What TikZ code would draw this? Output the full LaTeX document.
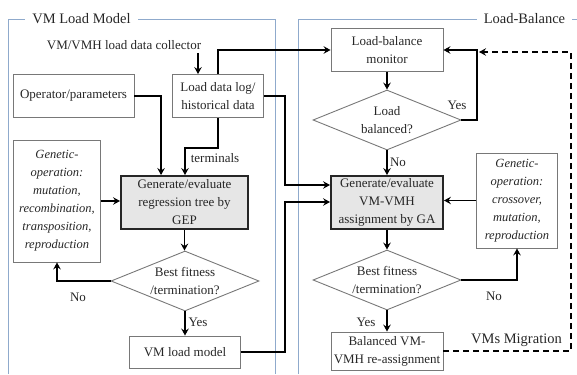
\documentclass[tikz,border=0pt]{standalone}
\usepackage{fontspec}
\setmainfont{Liberation Serif}
\usetikzlibrary{shapes.geometric,arrows.meta}
\definecolor{frameblue}{RGB}{143,170,204}
\definecolor{boxgray}{RGB}{120,120,120}
\definecolor{fillgray}{RGB}{230,230,230}
\begin{document}
\begin{tikzpicture}[x=1pt,y=-1pt,
 every node/.style={font=\fontsize{13}{18}\selectfont, text=black!85},
 box/.style={draw=boxgray, line width=0.9pt, align=center, inner sep=0pt},
 gbox/.style={draw=black!85, line width=1.9pt, fill=fillgray, align=center, inner sep=0pt},
 dia/.style={draw=boxgray, line width=0.9pt, diamond, shape aspect=2.47, inner sep=0pt, align=center, minimum width=148pt, minimum height=60pt},
 itbox/.style={box, font=\fontsize{12.5}{18}\selectfont\itshape},
 arr/.style={line width=1.8pt, -{Stealth[length=7pt,width=7.5pt,inset=2.5pt]}},
 dasharr/.style={arr, dash pattern=on 6pt off 4pt},
 frame/.style={draw=frameblue, line width=0.8pt},
 ttl/.style={fill=white, inner xsep=7pt, inner ysep=3pt, font=\fontsize{14.5}{17}\selectfont},
 lbl/.style={inner sep=0pt}]
\path[use as bounding box] (0,0) rectangle (577,374);
% frames
\draw[frame] (8,374) -- (8,19) -- (275,19) -- (275,374);
\draw[frame] (298,374) -- (298,19) -- (577,19);
\node[ttl] (t1) at (81.5,19) {VM Load Model};
\node[ttl] (t2) at (524.5,19) {Load-Balance};
% left nodes
\node[lbl] (coll) at (124,45) {VM/VMH load data collector};
\node[box, minimum width=121pt, minimum height=43pt] (oper) at (73.5,96) {Operator/parameters};
\node[box, minimum width=91pt, minimum height=43pt] (log) at (218,96) {Load data log/\\historical data};
\node[itbox, minimum width=87pt, minimum height=122pt] (gen1) at (57,201) {Genetic-\\operation:\\mutation,\\recombination,\\transposition,\\reproduction};
\node[gbox, minimum width=127pt, minimum height=53pt] (gep) at (184.5,202.5) {Generate/evaluate\\regression tree by\\GEP};
\node[dia] (fit1) at (185,281) {Best fitness\\/termination?};
\node[box, minimum width=111pt, minimum height=32pt] (vmlm) at (185,352) {VM load model};
% right nodes
\node[box, minimum width=112pt, minimum height=43pt] (mon) at (387,50) {Load-balance\\monitor};
\node[dia] (bal) at (387,120) {Load\\balanced?};
\node[gbox, minimum width=112pt, minimum height=53pt] (ga) at (387,202.5) {Generate/evaluate\\VM-VMH\\assignment by GA};
\node[itbox, minimum width=81pt, minimum height=95pt] (gen2) at (517,200.5) {Genetic-\\operation:\\crossover,\\mutation,\\reproduction};
\node[dia] (fit2) at (387,280) {Best fitness\\/termination?};
\node[box, minimum width=112pt, minimum height=38pt] (balvm) at (387,351) {Balanced VM-\\VMH re-assignment};
% labels
\node[lbl] (lterm) at (215,158) {terminals};
\node[lbl] (lno1) at (78,297) {No};
\node[lbl] (lyes1) at (198,322) {Yes};
\node[lbl] (lyes2) at (457,105) {Yes};
\node[lbl] (lno2) at (398,162) {No};
\node[lbl] (lno3) at (494,296) {No};
\node[lbl] (lyes3) at (366,322) {Yes};
\node[lbl, font=\fontsize{14.5}{17}\selectfont] (lmig) at (516.5,340) {VMs Migration};
% helper coordinates
\coordinate (cin) at (198,53);
\coordinate (tj) at (185,148);
\coordinate (j1) at (285,185);
\coordinate (j2) at (285,202);
\coordinate (j3) at (477,50);
\coordinate (d1) at (571,351);
\coordinate (d2) at (571,52);
\coordinate (d3) at (479,52);
% connectors
\draw[arr] (cin) -- (cin |- log.north);
\draw[arr] (oper.east) -| ([xshift=41pt]gep.north west);
\draw[arr] (log.south) |- (tj) -- (tj |- gep.north);
\draw[arr] (log.north) |- (mon.west);
\draw[arr] (log.east) -| (j1) -- (j1 -| ga.west);
\draw[arr] (vmlm.east) -| (j2) -- (j2 -| ga.west);
\draw[arr] (gen1.east) -- (gen1.east -| gep.west);
\draw[arr] (gep.south) -- (gep.south |- fit1.north);
\draw[arr] (fit1.west) -| (gen1.south);
\draw[arr] (fit1.south) -- (vmlm.north);
\draw[arr] (mon.south) -- (bal.north);
\draw[arr] (bal.east) -| (j3) -- (mon.east);
\draw[arr] (bal.south) -- (ga.north);
\draw[arr] (gen2.west) -- (gen2.west -| ga.east);
\draw[arr] (ga.south) -- (fit2.north);
\draw[arr] (fit2.east) -| (gen2.south);
\draw[arr] (fit2.south) -- (balvm.north);
\draw[dasharr] (balvm.east) -- (d1) -- (d2) -- (d3);
\end{tikzpicture}
\end{document}
